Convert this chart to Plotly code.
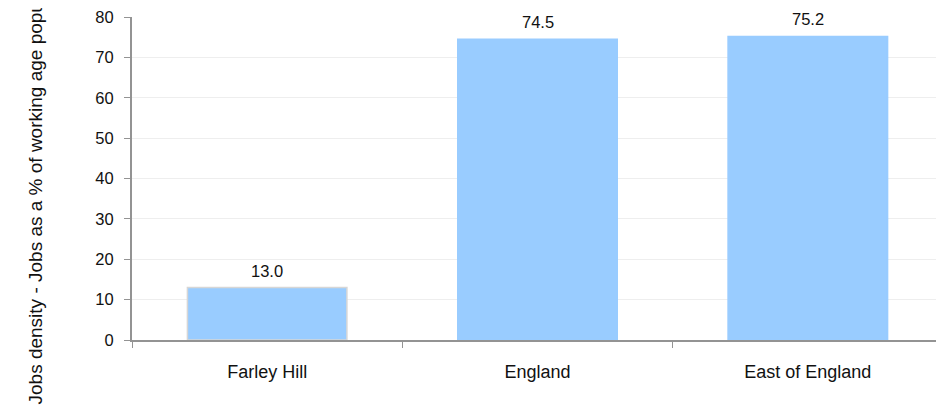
import plotly.graph_objects as go

categories = ["Farley Hill", "England", "East of England"]
values = [13.0, 74.5, 75.2]
y_title = "Jobs density - Jobs as a % of working age population"

bar_color = "#99CCFF"
line_colors = ["#d6d6d6", bar_color, bar_color]
font_family = "Liberation Sans, Arial"

fig = go.Figure(go.Bar(
    x=categories, y=values,
    marker=dict(color=bar_color, line=dict(color=line_colors, width=1.5)),
    width=0.59,
    hoverinfo="x+y",
))

annotations = [dict(
    x=c, y=v, text=f"{v:.1f}", xref="x", yref="y",
    showarrow=False, yanchor="bottom", yshift=6,
    font=dict(family=font_family, size=16.5, color="#111111"),
) for c, v in zip(categories, values)]

annotations.append(dict(
    text=y_title, textangle=-90, showarrow=False,
    xref="paper", yref="paper",
    x=(34.5 - 132) / 811, y=(340 - 181) / 323,
    xanchor="center", yanchor="middle",
    font=dict(family=font_family, size=19, color="#111111"),
))

fig.update_layout(
    width=936, height=399,
    margin=dict(l=124, r=1, t=9, b=67, autoexpand=False),
    paper_bgcolor="white", plot_bgcolor="white",
    font=dict(family=font_family, size=15, color="#111111"),
    showlegend=False,
    xaxis=dict(
        automargin=False,
        showline=True, linecolor="#939393", linewidth=2,
        ticks="outside", tickson="boundaries", ticklen=6, tickcolor="#939393",
        tickfont=dict(size=18), ticklabelstandoff=14,
        ticklabeloverflow="allow",
        showgrid=False,
    ),
    yaxis=dict(
        automargin=False,
        range=[0, 80], dtick=10,
        showline=True, linecolor="#939393", linewidth=2,
        ticks="outside", ticklen=6, tickcolor="#939393",
        tickfont=dict(size=16.5), ticklabelstandoff=7,
        ticklabeloverflow="allow",
        showgrid=True, gridcolor="#eeeeee", gridwidth=1,
        zeroline=False,
    ),
    annotations=annotations,
)

fig.write_html("out.html")
